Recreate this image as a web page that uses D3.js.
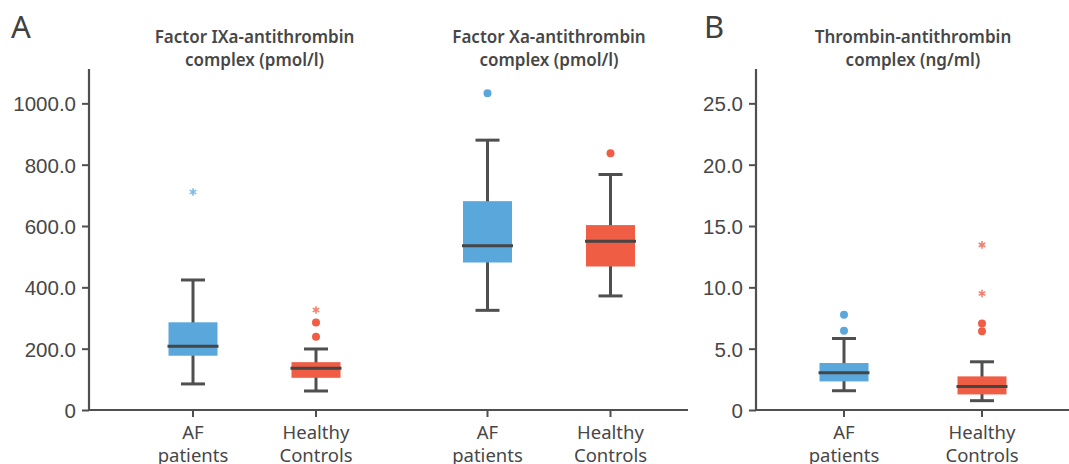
<!DOCTYPE html>
<html>
<head>
<meta charset="utf-8">
<script src="https://cdn.jsdelivr.net/npm/d3@7"></script>
<style>
  html, body { margin: 0; padding: 0; background: #fff; }
  svg { display: block; font-family: 'Noto Sans', 'Open Sans', sans-serif; }
</style>
</head>
<body>
<svg id="chart" width="1069" height="464"></svg>
<script>
// ── Data ─────────────────────────────────────────────────────────────────────
const categories = ['AF|patients', 'Healthy|Controls'];
const colors     = ['#5aa7db', '#ef5d45'];
const starColors = ['#7fbbe6', '#f4806d'];

// box stats per group: [whiskerLow, q1, median, q3, whiskerHigh]
const fixaBox   = [[85, 177, 208, 286, 424], [62, 105, 136, 156, 199]];
const fixaDots  = [[], [239, 285]];
const fixaStars = [[711], [326]];

const fxaBox   = [[325, 481, 536, 681, 880], [372, 468, 550, 603, 768]];
const fxaDots  = [[1033], [837]];
const fxaStars = [[], []];

const tatBox   = [[1.57, 2.33, 3.04, 3.83, 5.83], [0.76, 1.27, 1.92, 2.74, 3.93]];
const tatDots  = [[6.46, 7.76], [6.43, 7.05]];
const tatStars = [[], [9.5, 13.46]];

const ticksA = [0, 200, 400, 600, 800, 1000];
const ticksB = [0, 5, 10, 15, 20, 25];

// ── Layout ───────────────────────────────────────────────────────────────────
const svg = d3.select('#chart');
const TXT = '#474747', AX = '#4f4f4f';
const y0 = 410, yTop = 69;

const yA = d3.scaleLinear().domain([0, 1112]).range([y0, yTop]);
const yB = d3.scaleLinear().domain([0, 27.8]).range([y0, yTop]);

const groupA = d3.scaleBand().domain(['fixa', 'fxa']).range([107.25, 696.25]);
const innerA = d3.scalePoint().domain(categories).range([-61.5, 61.5]);
const xB     = d3.scalePoint().domain(categories).range([844, 982]);

const fmt = d => d === 0 ? '0' : d3.format('.1f')(d);

function yAxis(scale, ticks, x) {
  const g = svg.append('g').attr('transform', `translate(${x},0)`)
    .call(d3.axisLeft(scale).tickValues(ticks).tickFormat(fmt).tickSize(7).tickPadding(6));
  g.select('.domain').attr('d', `M0,${y0}V${yTop}`).attr('stroke', AX).attr('stroke-width', 2.2);
  g.selectAll('.tick line').attr('stroke', AX).attr('stroke-width', 2);
  g.selectAll('.tick text').attr('fill', TXT).style('font-size', '20.5px').attr('dy', '0.36em');
}

function xAxis(x1, x2, positions) {
  svg.append('line').attr('x1', x1).attr('x2', x2).attr('y1', y0).attr('y2', y0)
    .attr('stroke', AX).attr('stroke-width', 2.2);
  positions.forEach(p => {
    svg.append('line').attr('x1', p.x).attr('x2', p.x).attr('y1', y0).attr('y2', y0 + 7)
      .attr('stroke', AX).attr('stroke-width', 2);
    const t = svg.append('text').attr('x', p.x).attr('y', 439)
      .attr('text-anchor', 'middle').attr('fill', TXT).style('font-size', '18.5px');
    p.label.split('|').forEach((s, i) => {
      t.append('tspan').attr('x', p.x).attr('dy', i ? 23 : 0).text(s);
    });
  });
}

function title(x, lines) {
  const t = svg.append('text').attr('x', x).attr('y', 43).attr('text-anchor', 'middle')
    .attr('fill', TXT).style('font-size', '17px').style('font-weight', 600);
  lines.forEach((s, i) => t.append('tspan').attr('x', x).attr('dy', i ? 23 : 0).text(s));
}

function boxes(scale, xOf, box, dots, stars) {
  box.forEach((b, i) => {
    const cx = xOf(categories[i]);
    const g = svg.append('g');
    const bw = 49, cw = 24;
    g.append('line').attr('x1', cx).attr('x2', cx).attr('y1', scale(b[0])).attr('y2', scale(b[4]))
      .attr('stroke', AX).attr('stroke-width', 3);
    [b[0], b[4]].forEach(v => g.append('line')
      .attr('x1', cx - cw / 2).attr('x2', cx + cw / 2).attr('y1', scale(v)).attr('y2', scale(v))
      .attr('stroke', AX).attr('stroke-width', 3));
    g.append('rect').attr('x', cx - bw / 2).attr('width', bw)
      .attr('y', scale(b[3])).attr('height', scale(b[1]) - scale(b[3]))
      .attr('fill', colors[i]);
    g.append('line').attr('x1', cx - bw / 2 - 1).attr('x2', cx + bw / 2 + 1)
      .attr('y1', scale(b[2])).attr('y2', scale(b[2]))
      .attr('stroke', '#454545').attr('stroke-width', 3);
    dots[i].forEach(v => g.append('circle').attr('cx', cx).attr('cy', scale(v)).attr('r', 4)
      .attr('fill', colors[i]));
    stars[i].forEach(v => g.append('path')
      .attr('d', d3.symbol(d3.symbolAsterisk, 40)())
      .attr('transform', `translate(${cx},${scale(v)})`)
      .attr('fill', 'none').attr('stroke', starColors[i]).attr('stroke-width', 1.6));
  });
}

// ── Panel A ──────────────────────────────────────────────────────────────────
const cxA = g => c => groupA(g) + groupA.bandwidth() / 2 + innerA(c);
xAxis(89, 688, ['fixa', 'fxa'].flatMap(g => categories.map(c => ({ x: cxA(g)(c), label: c }))));
yAxis(yA, ticksA, 89);
boxes(yA, cxA('fixa'), fixaBox, fixaDots, fixaStars);
boxes(yA, cxA('fxa'), fxaBox, fxaDots, fxaStars);
title(groupA('fixa') + groupA.bandwidth() / 2, ['Factor IXa-antithrombin', 'complex (pmol/l)']);
title(groupA('fxa') + groupA.bandwidth() / 2, ['Factor Xa-antithrombin', 'complex (pmol/l)']);

// ── Panel B ──────────────────────────────────────────────────────────────────
xAxis(756, 1069, categories.map(c => ({ x: xB(c), label: c })));
yAxis(yB, ticksB, 756);
boxes(yB, xB, tatBox, tatDots, tatStars);
title(913, ['Thrombin-antithrombin', 'complex (ng/ml)']);

// panel letters
svg.append('text').attr('x', 11).attr('y', 38).attr('fill', '#404040')
  .style('font-size', '31px').text('A');
svg.append('text').attr('x', 704).attr('y', 38).attr('fill', '#404040')
  .style('font-size', '31px').text('B');
</script>
</body>
</html>
